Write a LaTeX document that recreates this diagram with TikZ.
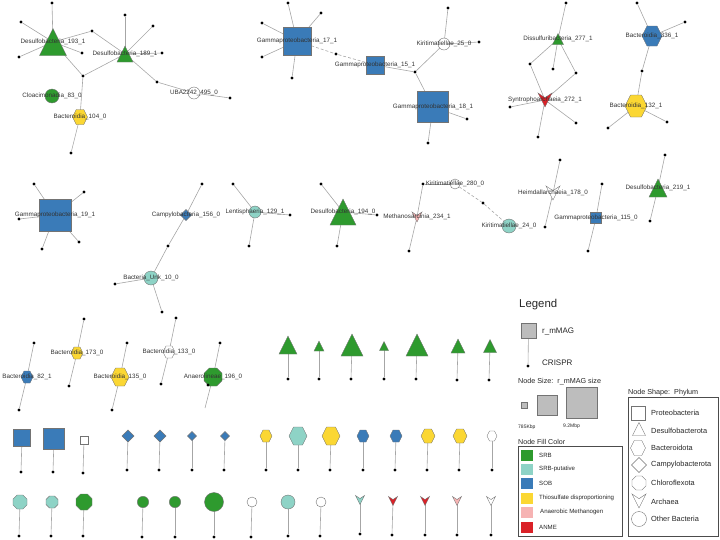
\documentclass[tikz,border=0pt]{standalone}
\usepackage{fontspec}
\setmainfont{Liberation Sans}
\usepackage{tikz}
\usepackage{xcolor}

\definecolor{srb}{HTML}{2E9A2E}
\definecolor{srbput}{HTML}{8ED3C6}
\definecolor{sob}{HTML}{3A7BB8}
\definecolor{thio}{HTML}{FBD733}
\definecolor{methan}{HTML}{F6B3B3}
\definecolor{anme}{HTML}{DA2128}
\definecolor{edgegray}{HTML}{A6A6A6}
\definecolor{leggray}{HTML}{BDBDBD}

\tikzset{
  edge/.style={draw=edgegray,line width=0.6pt},
  magline/.style={draw=black!55,line width=0.4pt},
  crispr/.style={circle,fill=black,inner sep=0pt,minimum size=3.2pt},
  lbl/.style={font=\fontsize{6.3}{7}\selectfont,text=black!80,inner sep=0pt},
  legtxt/.style={anchor=west,inner sep=0pt,text=black!85},
}

\newcommand{\magsq}[3]{\filldraw[magline,fill=#3,shift={(#1)}] (-#2/2,-#2/2) rectangle (#2/2,#2/2);}
\newcommand{\magtri}[3]{\filldraw[magline,fill=#3,shift={(#1)}] (0,-#2/2) -- (#2/2,#2/2) -- (-#2/2,#2/2) -- cycle;}
\newcommand{\maghex}[3]{\filldraw[magline,fill=#3,shift={(#1)}] (#2,0) -- (#2/2,#2) -- (-#2/2,#2) -- (-#2,0) -- (-#2/2,-#2) -- (#2/2,-#2) -- cycle;}
\newcommand{\magoct}[3]{\filldraw[magline,fill=#3,shift={(#1)}] (#2,0.414*#2) -- (0.414*#2,#2) -- (-0.414*#2,#2) -- (-#2,0.414*#2) -- (-#2,-0.414*#2) -- (-0.414*#2,-#2) -- (0.414*#2,-#2) -- (#2,-0.414*#2) -- cycle;}
\newcommand{\magdia}[3]{\filldraw[magline,fill=#3,shift={(#1)}] (#2,0) -- (0,#2) -- (-#2,0) -- (0,-#2) -- cycle;}
\newcommand{\magcirc}[3]{\filldraw[magline,fill=#3] (#1) circle (#2);}
\newcommand{\magvee}[3]{\filldraw[magline,fill=#3,shift={(#1)}] (-#2,-#2) -- (0,-#2/3) -- (#2,-#2) -- (0,#2) -- cycle;}

\begin{document}
\begin{tikzpicture}[x=1pt,y=-1pt]
\useasboundingbox (0,0) rectangle (720,539);

% r_mMAG centres
\coordinate (d193) at (53,42);
\coordinate (d189) at (125,54);
\coordinate (uba495) at (194,93);
\coordinate (cl83) at (52,96);
\coordinate (b104) at (80,117);
\coordinate (g17) at (297,41);
\coordinate (g15) at (375,65);
\coordinate (k25) at (444,44);
\coordinate (g18) at (433,107);
\coordinate (d277) at (558,39);
\coordinate (s272) at (545,100);
\coordinate (b336) at (652,36);
\coordinate (b132) at (636,106);
\coordinate (g19) at (55,215);
\coordinate (c156) at (186,215);
\coordinate (u10) at (151,278);
\coordinate (l129) at (255,212);
\coordinate (d194) at (343,212);
\coordinate (m234) at (417,217);
\coordinate (k280) at (455,184);
\coordinate (k24) at (509,226);
\coordinate (h178) at (553,193);
\coordinate (g115) at (596,218);
\coordinate (d219) at (658,188);
\coordinate (b82) at (27,377);
\coordinate (b173) at (77,353);
\coordinate (b135) at (120,377);
\coordinate (b133) at (169,352);
\coordinate (a196) at (213,377);
\coordinate (a196end) at (205,408);

% CRISPR spacers
\node[crispr] (a1) at (52,3) {};
\node[crispr] (a2) at (21,22) {};
\node[crispr] (a3) at (19,57) {};
\node[crispr] (a4) at (82,53) {};
\node[crispr] (a5) at (92,31) {};
\node[crispr] (a6) at (83,76) {};
\node[crispr] (a7) at (125,15) {};
\node[crispr] (a8) at (153,26) {};
\node[crispr] (a9) at (162,53) {};
\node[crispr] (a10) at (157,82) {};
\node[crispr] (a11) at (230,98) {};
\node[crispr] (a12) at (71,153) {};
\node[crispr] (b1) at (288,3) {};
\node[crispr] (b2) at (321,13) {};
\node[crispr] (b3) at (262,23) {};
\node[crispr] (b4) at (262,57) {};
\node[crispr] (b5) at (292,78) {};
\node[crispr] (b6) at (336,54) {};
\node[crispr] (b7) at (415,72) {};
\node[crispr] (b8) at (448,8) {};
\node[crispr] (b9) at (479,42) {};
\node[crispr] (b10) at (467,119) {};
\node[crispr] (b11) at (428,143) {};
\node[crispr] (c1) at (566,3) {};
\node[crispr] (c2) at (530,64) {};
\node[crispr] (c3) at (553,69) {};
\node[crispr] (c4) at (576,73) {};
\node[crispr] (c5) at (510,107) {};
\node[crispr] (c6) at (576,123) {};
\node[crispr] (c7) at (538,137) {};
\node[crispr] (d1) at (637,3) {};
\node[crispr] (d2) at (685,22) {};
\node[crispr] (d3) at (642,71) {};
\node[crispr] (d4) at (608,128) {};
\node[crispr] (d5) at (667,122) {};
\node[crispr] (e1) at (34,184) {};
\node[crispr] (e2) at (84,192) {};
\node[crispr] (e3) at (19,219) {};
\node[crispr] (e4) at (79,242) {};
\node[crispr] (e5) at (42,249) {};
\node[crispr] (f1) at (202,184) {};
\node[crispr] (f2) at (168,246) {};
\node[crispr] (f3) at (115,284) {};
\node[crispr] (f4) at (162,312) {};
\node[crispr] (g1) at (233,184) {};
\node[crispr] (g2) at (290,215) {};
\node[crispr] (g3) at (249,246) {};
\node[crispr] (h1) at (321,184) {};
\node[crispr] (h2) at (377,215) {};
\node[crispr] (h3) at (337,246) {};
\node[crispr] (i1) at (423,184) {};
\node[crispr] (i2) at (409,251) {};
\node[crispr] (i3) at (483,203) {};
\node[crispr] (j1) at (560,160) {};
\node[crispr] (j2) at (545,227) {};
\node[crispr] (j3) at (602,184) {};
\node[crispr] (j4) at (588,251) {};
\node[crispr] (j5) at (665,155) {};
\node[crispr] (j6) at (650,221) {};
\node[crispr] (k1) at (34,343) {};
\node[crispr] (k2) at (19,410) {};
\node[crispr] (k3) at (84,319) {};
\node[crispr] (k4) at (69,386) {};
\node[crispr] (k5) at (127,343) {};
\node[crispr] (k6) at (112,410) {};
\node[crispr] (k7) at (176,318) {};
\node[crispr] (k8) at (161,384) {};
\node[crispr] (k9) at (220,343) {};

% network edges
\draw[edge] (d193) -- (a1);
\draw[edge] (d193) -- (a2);
\draw[edge] (d193) -- (a3);
\draw[edge] (d193) -- (a4);
\draw[edge] (d193) -- (a5);
\draw[edge] (d193) -- (a6);
\draw[edge] (d189) -- (a5);
\draw[edge] (d189) -- (a6);
\draw[edge] (d189) -- (a7);
\draw[edge] (d189) -- (a8);
\draw[edge] (d189) -- (a9);
\draw[edge] (d189) -- (a10);
\draw[edge] (uba495) -- (a10);
\draw[edge] (uba495) -- (a11);
\draw[edge] (b104) -- (a6);
\draw[edge] (b104) -- (a12);
\draw[edge] (g17) -- (b1);
\draw[edge] (g17) -- (b2);
\draw[edge] (g17) -- (b3);
\draw[edge] (g17) -- (b4);
\draw[edge] (g17) -- (b5);
\draw[edge,densely dashed] (g17) -- (b6);
\draw[edge,densely dashed] (g15) -- (b6);
\draw[edge] (g15) -- (b7);
\draw[edge] (k25) -- (b7);
\draw[edge] (k25) -- (b8);
\draw[edge] (k25) -- (b9);
\draw[edge] (g18) -- (b7);
\draw[edge] (g18) -- (b10);
\draw[edge] (g18) -- (b11);
\draw[edge] (d277) -- (c1);
\draw[edge] (d277) -- (c2);
\draw[edge] (d277) -- (c3);
\draw[edge] (d277) -- (c4);
\draw[edge] (s272) -- (c2);
\draw[edge] (s272) -- (c4);
\draw[edge] (s272) -- (c5);
\draw[edge] (s272) -- (c6);
\draw[edge] (s272) -- (c7);
\draw[edge] (b336) -- (d1);
\draw[edge] (b336) -- (d2);
\draw[edge] (b336) -- (d3);
\draw[edge] (b132) -- (d3);
\draw[edge] (b132) -- (d4);
\draw[edge] (b132) -- (d5);
\draw[edge] (g19) -- (e1);
\draw[edge] (g19) -- (e2);
\draw[edge] (g19) -- (e3);
\draw[edge] (g19) -- (e4);
\draw[edge] (g19) -- (e5);
\draw[edge] (c156) -- (f1);
\draw[edge] (c156) -- (f2);
\draw[edge] (u10) -- (f2);
\draw[edge] (u10) -- (f3);
\draw[edge] (u10) -- (f4);
\draw[edge] (l129) -- (g1);
\draw[edge] (l129) -- (g2);
\draw[edge] (l129) -- (g3);
\draw[edge] (d194) -- (h1);
\draw[edge] (d194) -- (h2);
\draw[edge] (d194) -- (h3);
\draw[edge] (m234) -- (i1);
\draw[edge] (m234) -- (i2);
\draw[edge] (k280) -- (i1);
\draw[edge,densely dashed] (k280) -- (i3);
\draw[edge,densely dashed] (k24) -- (i3);
\draw[edge] (h178) -- (j1);
\draw[edge] (h178) -- (j2);
\draw[edge] (g115) -- (j3);
\draw[edge] (g115) -- (j4);
\draw[edge] (d219) -- (j5);
\draw[edge] (d219) -- (j6);
\draw[edge] (b82) -- (k1);
\draw[edge] (b82) -- (k2);
\draw[edge] (b173) -- (k3);
\draw[edge] (b173) -- (k4);
\draw[edge] (b135) -- (k5);
\draw[edge] (b135) -- (k6);
\draw[edge] (b133) -- (k7);
\draw[edge] (b133) -- (k8);
\draw[edge] (a196) -- (k9);
\draw[edge] (a196) -- (a196end);

% r_mMAG shapes
\magtri{d193}{27}{srb}
\magtri{d189}{16}{srb}
\magcirc{uba495}{6}{white}
\magcirc{cl83}{7}{srb}
\maghex{b104}{7.5}{thio}
\magsq{g17}{28}{sob}
\magsq{g15}{18}{sob}
\magcirc{k25}{6}{white}
\magsq{g18}{31}{sob}
\magtri{d277}{11}{srb}
\magvee{s272}{7}{anme}
\maghex{b336}{10}{sob}
\maghex{b132}{11}{thio}
\magsq{g19}{32}{sob}
\magdia{c156}{5.5}{sob}
\magcirc{u10}{7}{srbput}
\magcirc{l129}{6}{srbput}
\magtri{d194}{26}{srb}
\magvee{m234}{5}{methan}
\magcirc{k280}{5}{white}
\magcirc{k24}{7}{srbput}
\magvee{h178}{7}{white}
\magsq{g115}{11}{sob}
\magtri{d219}{18}{srb}
\maghex{b82}{6}{sob}
\maghex{b173}{6}{thio}
\maghex{b135}{9}{thio}
\maghex{b133}{6}{white}
\magoct{a196}{9}{srb}
\node[crispr] (k10) at (208,385) {};

% labels
\node[lbl] (d193l) at (d193) {Desulfobacteria\_193\_1};
\node[lbl] (d189l) at (d189) {Desulfobacteria\_189\_1};
\node[lbl] (uba495l) at (uba495) {UBA2242\_495\_0};
\node[lbl] (cl83l) at (cl83) {Cloacimonadia\_83\_0};
\node[lbl] (b104l) at (b104) {Bacteroidia\_104\_0};
\node[lbl] (g17l) at (g17) {Gammaproteobacteria\_17\_1};
\node[lbl] (g15l) at (g15) {Gammaproteobacteria\_15\_1};
\node[lbl] (k25l) at (k25) {Kiritimatiellae\_25\_0};
\node[lbl] (g18l) at (g18) {Gammaproteobacteria\_18\_1};
\node[lbl] (d277l) at (d277) {Dissulfuribacteria\_277\_1};
\node[lbl] (s272l) at (s272) {Syntrophoarchaeia\_272\_1};
\node[lbl] (b336l) at (b336) {Bacteroidia\_336\_1};
\node[lbl] (b132l) at (b132) {Bacteroidia\_132\_1};
\node[lbl] (g19l) at (g19) {Gammaproteobacteria\_19\_1};
\node[lbl] (c156l) at (c156) {Campylobacteria\_156\_0};
\node[lbl] (u10l) at (u10) {Bacteria\_Unk\_10\_0};
\node[lbl] (l129l) at (l129) {Lentisphaeria\_129\_1};
\node[lbl] (d194l) at (d194) {Desulfobacteria\_194\_0};
\node[lbl] (m234l) at (m234) {Methanosarcinia\_234\_1};
\node[lbl] (k280l) at (k280) {Kiritimatiellae\_280\_0};
\node[lbl] (k24l) at (k24) {Kiritimatiellae\_24\_0};
\node[lbl] (h178l) at (h178) {Heimdallarchaeia\_178\_0};
\node[lbl] (g115l) at (g115) {Gammaproteobacteria\_115\_0};
\node[lbl] (d219l) at (d219) {Desulfobacteria\_219\_1};
\node[lbl] (b82l) at (b82) {Bacteroidia\_82\_1};
\node[lbl] (b173l) at (b173) {Bacteroidia\_173\_0};
\node[lbl] (b135l) at (b135) {Bacteroidia\_135\_0};
\node[lbl] (b133l) at (b133) {Bacteroidia\_133\_0};
\node[lbl] (a196l) at (a196) {Anaerolineae\_196\_0};

% unlabelled pairs
\coordinate (t1) at (288,345);
\coordinate (t2) at (319,346);
\coordinate (t3) at (352,345);
\coordinate (t4) at (384,346);
\coordinate (t5) at (417,345);
\coordinate (t6) at (458,346);
\coordinate (t7) at (490,346);
\node[crispr] (t1c) at (288,379) {};
\node[crispr] (t2c) at (319,379) {};
\node[crispr] (t3c) at (351,379) {};
\node[crispr] (t4c) at (384,379) {};
\node[crispr] (t5c) at (416,379) {};
\node[crispr] (t6c) at (457,380) {};
\node[crispr] (t7c) at (489,380) {};
\draw[edge] (t1) -- (t1c);
\draw[edge] (t2) -- (t2c);
\draw[edge] (t3) -- (t3c);
\draw[edge] (t4) -- (t4c);
\draw[edge] (t5) -- (t5c);
\draw[edge] (t6) -- (t6c);
\draw[edge] (t7) -- (t7c);
\magtri{t1}{18}{srb}
\magtri{t2}{10}{srb}
\magtri{t3}{22}{srb}
\magtri{t4}{9}{srb}
\magtri{t5}{22}{srb}
\magtri{t6}{14}{srb}
\magtri{t7}{13}{srb}

\coordinate (q1) at (22,438);
\coordinate (q2) at (54,439);
\coordinate (q3) at (84,440);
\coordinate (q4) at (128,436);
\coordinate (q5) at (160,436);
\coordinate (q6) at (192,436);
\coordinate (q7) at (225,436);
\coordinate (q8) at (266,436);
\coordinate (q9) at (298,436);
\coordinate (q10) at (331,436);
\coordinate (q11) at (363,436);
\coordinate (q12) at (396,436);
\coordinate (q13) at (428,436);
\coordinate (q14) at (460,436);
\coordinate (q15) at (492,436);
\node[crispr] (q1c) at (21,472) {};
\node[crispr] (q2c) at (53,472) {};
\node[crispr] (q3c) at (83,473) {};
\node[crispr] (q4c) at (127,470) {};
\node[crispr] (q5c) at (159,470) {};
\node[crispr] (q6c) at (192,470) {};
\node[crispr] (q7c) at (224,470) {};
\node[crispr] (q8c) at (266,470) {};
\node[crispr] (q9c) at (298,470) {};
\node[crispr] (q10c) at (330,470) {};
\node[crispr] (q11c) at (363,470) {};
\node[crispr] (q12c) at (395,470) {};
\node[crispr] (q13c) at (427,470) {};
\node[crispr] (q14c) at (459,470) {};
\node[crispr] (q15c) at (492,470) {};
\draw[edge] (q1) -- (q1c);
\draw[edge] (q2) -- (q2c);
\draw[edge] (q3) -- (q3c);
\draw[edge] (q4) -- (q4c);
\draw[edge] (q5) -- (q5c);
\draw[edge] (q6) -- (q6c);
\draw[edge] (q7) -- (q7c);
\draw[edge] (q8) -- (q8c);
\draw[edge] (q9) -- (q9c);
\draw[edge] (q10) -- (q10c);
\draw[edge] (q11) -- (q11c);
\draw[edge] (q12) -- (q12c);
\draw[edge] (q13) -- (q13c);
\draw[edge] (q14) -- (q14c);
\draw[edge] (q15) -- (q15c);
\magsq{q1}{17}{sob}
\magsq{q2}{21}{sob}
\magsq{q3}{8}{white}
\magdia{q4}{6}{sob}
\magdia{q5}{6}{sob}
\magdia{q6}{4.5}{sob}
\magdia{q7}{4.5}{sob}
\maghex{q8}{6}{thio}
\maghex{q9}{9}{srbput}
\maghex{q10}{9}{thio}
\maghex{q11}{6}{sob}
\maghex{q12}{6}{sob}
\maghex{q13}{7}{thio}
\maghex{q14}{7}{thio}
\maghex{q15}{5}{white}

\coordinate (w1) at (20,502);
\coordinate (w2) at (52,502);
\coordinate (w3) at (84,502);
\coordinate (w4) at (143,502);
\coordinate (w5) at (175,502);
\coordinate (w6) at (214,502);
\coordinate (w7) at (252,502);
\coordinate (w8) at (288,502);
\coordinate (w9) at (321,502);
\coordinate (w10) at (360,500);
\coordinate (w11) at (393,501);
\coordinate (w12) at (425,501);
\coordinate (w13) at (457,501);
\coordinate (w14) at (491,501);
\node[crispr] (w1c) at (19,536) {};
\node[crispr] (w2c) at (51,536) {};
\node[crispr] (w3c) at (83,536) {};
\node[crispr] (w4c) at (142,537) {};
\node[crispr] (w5c) at (175,537) {};
\node[crispr] (w6c) at (214,537) {};
\node[crispr] (w7c) at (251,537) {};
\node[crispr] (w8c) at (288,536) {};
\node[crispr] (w9c) at (320,536) {};
\node[crispr] (w10c) at (360,534) {};
\node[crispr] (w11c) at (392,535) {};
\node[crispr] (w12c) at (425,535) {};
\node[crispr] (w13c) at (457,535) {};
\node[crispr] (w14c) at (491,535) {};
\draw[edge] (w1) -- (w1c);
\draw[edge] (w2) -- (w2c);
\draw[edge] (w3) -- (w3c);
\draw[edge] (w4) -- (w4c);
\draw[edge] (w5) -- (w5c);
\draw[edge] (w6) -- (w6c);
\draw[edge] (w7) -- (w7c);
\draw[edge] (w8) -- (w8c);
\draw[edge] (w9) -- (w9c);
\draw[edge] (w10) -- (w10c);
\draw[edge] (w11) -- (w11c);
\draw[edge] (w12) -- (w12c);
\draw[edge] (w13) -- (w13c);
\draw[edge] (w14) -- (w14c);
\magoct{w1}{7}{srbput}
\magoct{w2}{6}{srbput}
\magoct{w3}{8}{srb}
\magcirc{w4}{5.7}{srb}
\magcirc{w5}{5.7}{srb}
\magcirc{w6}{9.5}{srb}
\magcirc{w7}{5}{white}
\magcirc{w8}{7}{srbput}
\magcirc{w9}{5}{white}
\magvee{w10}{4.5}{srbput}
\magvee{w11}{4.5}{anme}
\magvee{w12}{4.5}{anme}
\magvee{w13}{4.5}{methan}
\magvee{w14}{4.5}{white}

% legend
\node[legtxt,font=\fontsize{11.4}{13}\selectfont] (legtitle) at (519,305) {Legend};
\coordinate (legmag) at (528.5,330.5);
\node[crispr] (legcr) at (528,366) {};
\draw[edge] (legmag) -- (legcr);
\magsq{legmag}{15}{leggray}
\node[legtxt,font=\fontsize{8}{9}\selectfont] (legmagt) at (542,331) {r\_mMAG};
\node[legtxt,font=\fontsize{8}{9}\selectfont] (legcrt) at (542,363) {CRISPR};
\node[legtxt,font=\fontsize{7.2}{8}\selectfont] (legsize) at (518,382) {Node Size:\ \ r\_mMAG size};
\coordinate (legs1) at (524,405);
\coordinate (legs2) at (547,405.5);
\coordinate (legs3) at (581.5,403);
\magsq{legs1}{6}{leggray}
\magsq{legs2}{20}{leggray}
\magsq{legs3}{31}{leggray}
\node[legtxt,font=\fontsize{5}{6}\selectfont] (legmin) at (518,427) {785Kbp};
\node[legtxt,font=\fontsize{5}{6}\selectfont] (legmax) at (563,426) {9.2Mbp};

\node[legtxt,font=\fontsize{7.1}{8}\selectfont] (legfill) at (518,442) {Node Fill Color};
\draw[black!70,line width=0.5pt] (518,446) rectangle (622,536);
\fill[srb] (521,449.5) rectangle (533,460.5);
\fill[srbput] (521,463.5) rectangle (533,474.5);
\fill[sob] (521,477.5) rectangle (533,488.5);
\fill[thio] (521,492.5) rectangle (533,503.5);
\fill[methan] (521,506.5) rectangle (533,517.5);
\fill[anme] (521,521.5) rectangle (533,532.5);
\node[legtxt,font=\fontsize{6.1}{7}\selectfont] (legsrb) at (539,455) {SRB};
\node[legtxt,font=\fontsize{6.1}{7}\selectfont] (legsrbp) at (539,469) {SRB-putative};
\node[legtxt,font=\fontsize{6.1}{7}\selectfont] (legsob) at (539,483) {SOB};
\node[legtxt,font=\fontsize{6.1}{7}\selectfont] (legthio) at (539,498) {Thiosulfate disproportioning};
\node[legtxt,font=\fontsize{6.1}{7}\selectfont] (legmeth) at (540,512) {Anaerobic Methanogen};
\node[legtxt,font=\fontsize{6.1}{7}\selectfont] (leganme) at (539,527) {ANME};

\node[legtxt,font=\fontsize{7.2}{8}\selectfont] (legshape) at (628,393) {Node Shape:\ \ Phylum};
\draw[black!70,line width=0.5pt] (628,397) rectangle (718,536);
\coordinate (ls1) at (638,413);
\coordinate (ls2) at (639,429);
\coordinate (ls3) at (638,448);
\coordinate (ls4) at (639,465);
\coordinate (ls5) at (639,483);
\coordinate (ls6) at (639,501);
\coordinate (ls7) at (639,519);
\magsq{ls1}{14}{white}
\magtri{ls2}{13}{white}
\maghex{ls3}{7.5}{white}
\magdia{ls4}{7.5}{white}
\magoct{ls5}{7}{white}
\magvee{ls6}{7}{white}
\magcirc{ls7}{7.5}{white}
\node[legtxt,font=\fontsize{7.4}{9}\selectfont] (lsp) at (651,413) {Proteobacteria};
\node[legtxt,font=\fontsize{7.4}{9}\selectfont] (lsd) at (651,431) {Desulfobacterota};
\node[legtxt,font=\fontsize{7.4}{9}\selectfont] (lsb) at (651,448) {Bacteroidota};
\node[legtxt,font=\fontsize{7.4}{9}\selectfont] (lsc) at (651,465) {Campylobacterota};
\node[legtxt,font=\fontsize{7.4}{9}\selectfont] (lsch) at (651,483) {Chloroflexota};
\node[legtxt,font=\fontsize{7.4}{9}\selectfont] (lsa) at (651,502) {Archaea};
\node[legtxt,font=\fontsize{7.4}{9}\selectfont] (lso) at (651,519) {Other Bacteria};
\end{tikzpicture}
\end{document}
